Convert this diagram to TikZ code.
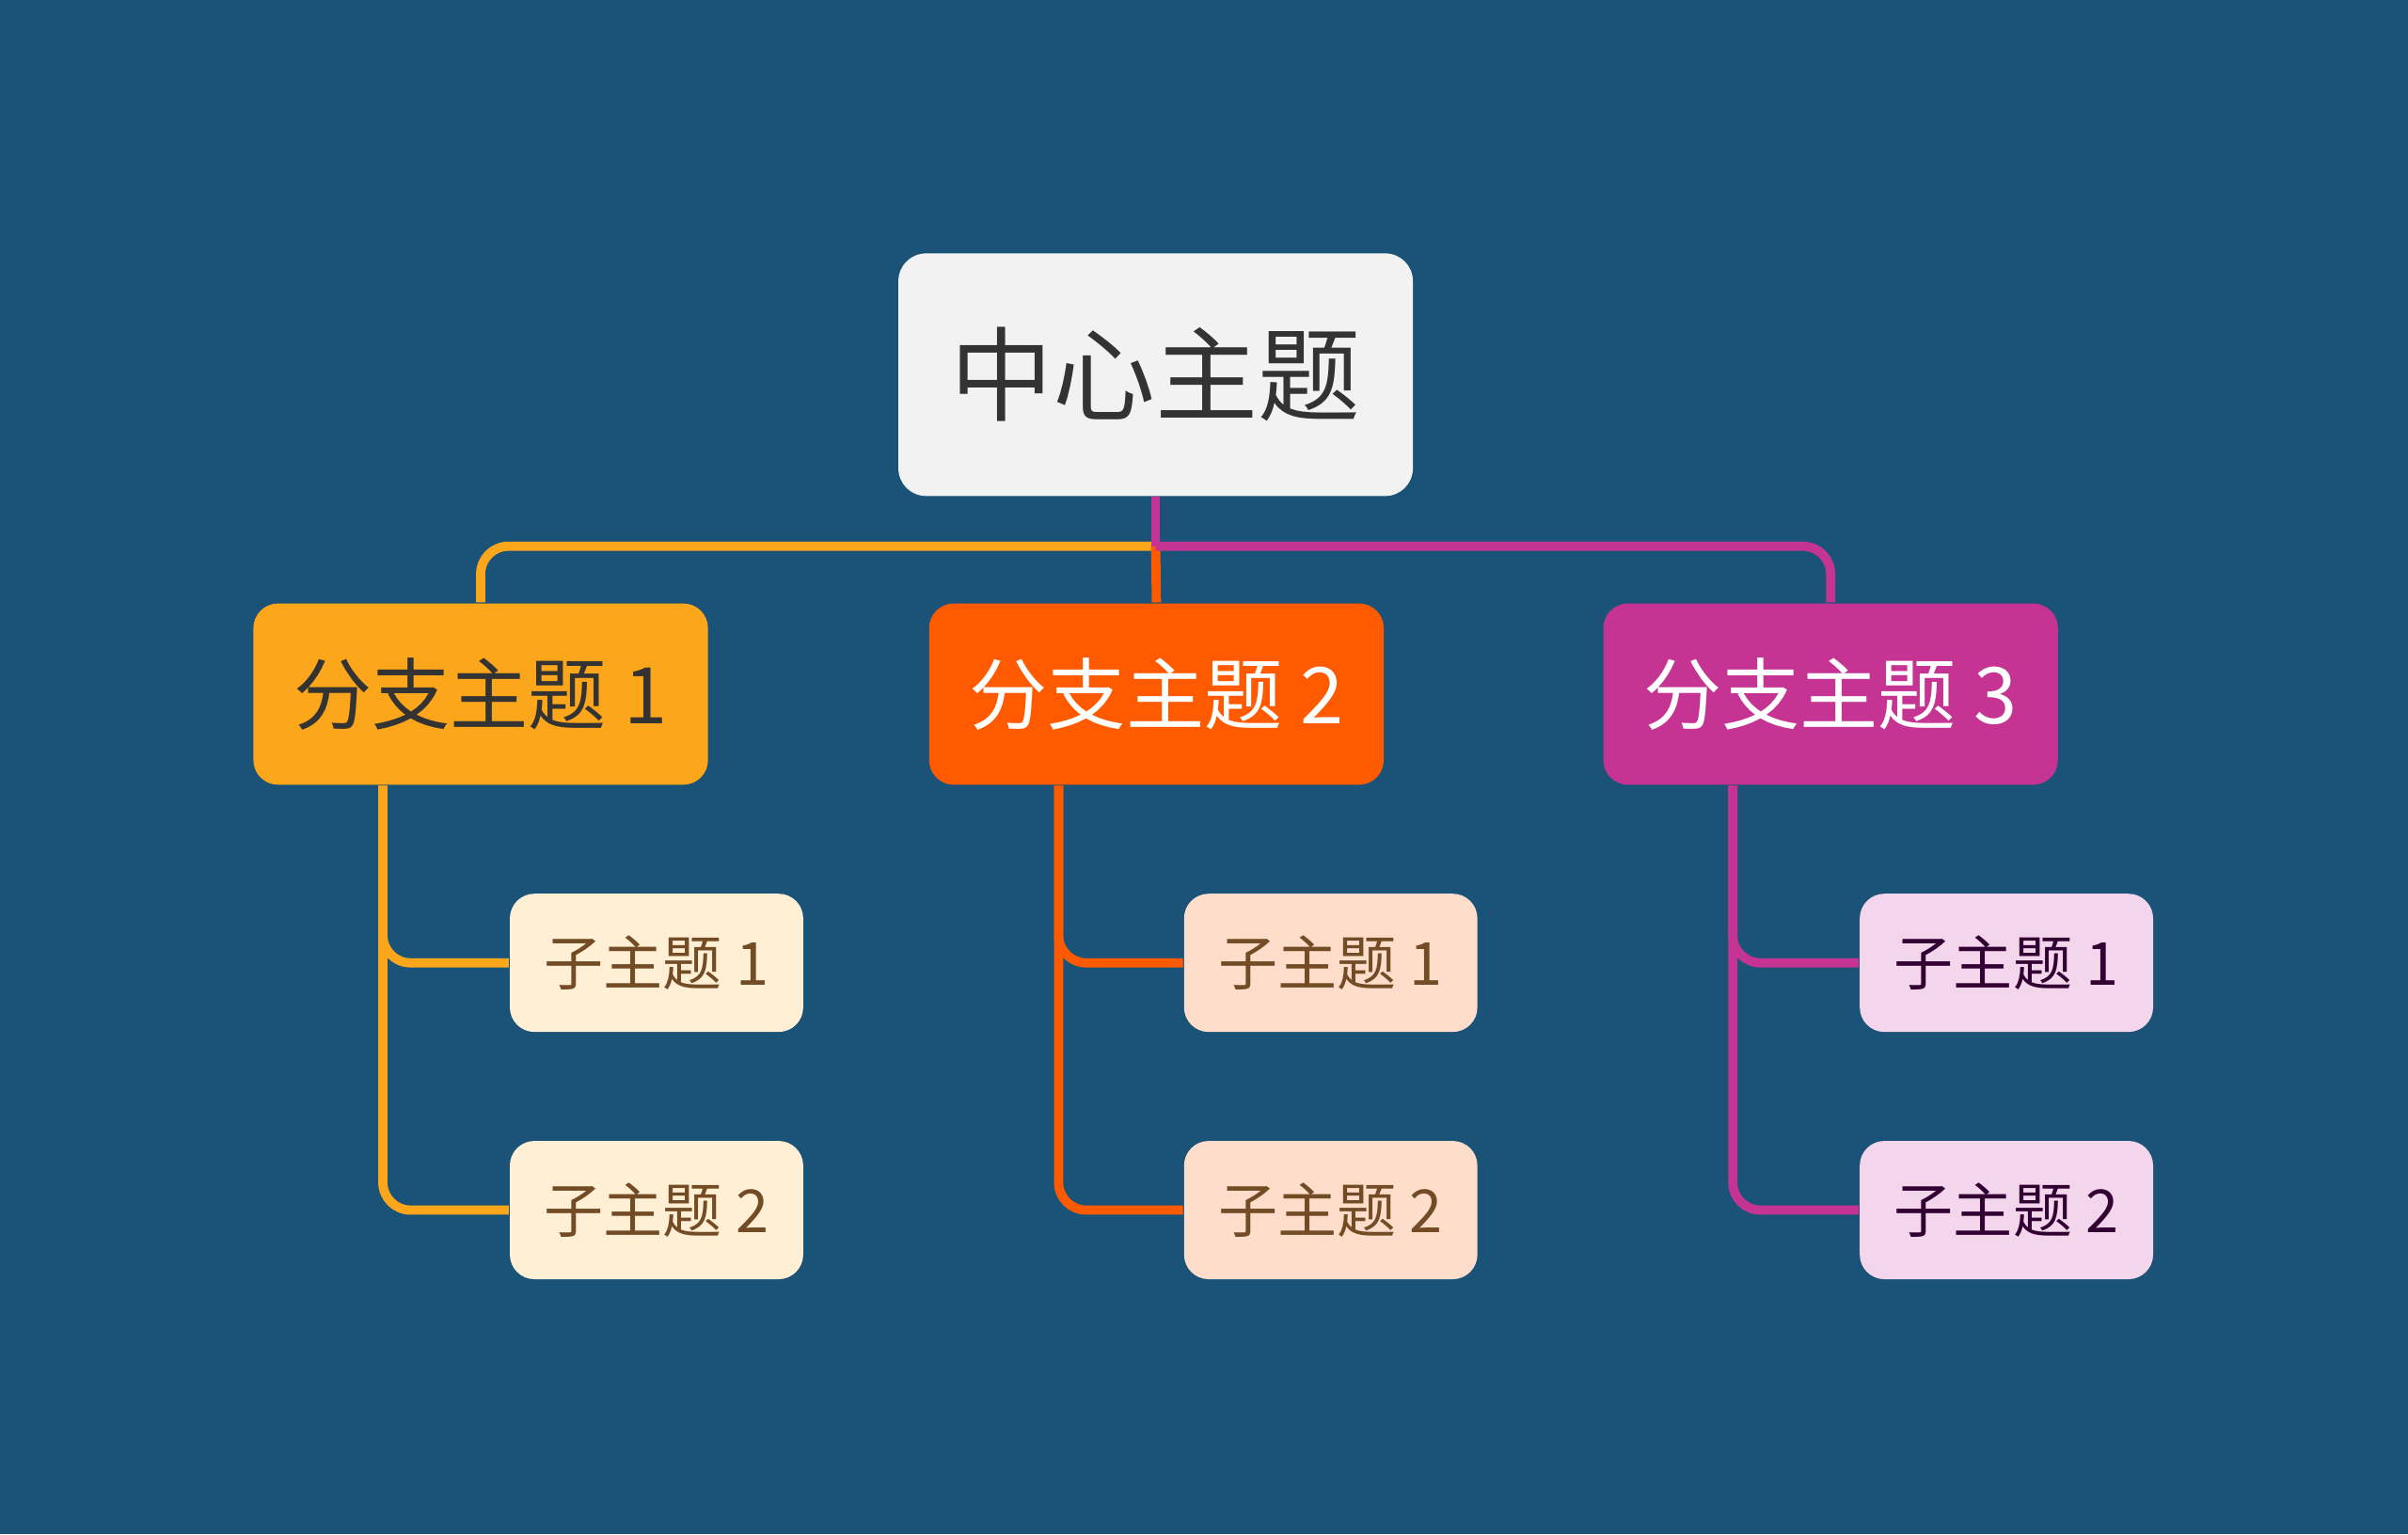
\documentclass[tikz,border=0pt]{standalone}
\usepackage{fontspec}
\setmainfont{Noto Sans CJK SC}
\usetikzlibrary{calc}
\definecolor{bgblue}{HTML}{1A5377}
\definecolor{corange}{HTML}{FCA61B}
\definecolor{cred}{HTML}{FF5A00}
\definecolor{cpink}{HTML}{C53393}
\definecolor{lorange}{HTML}{FFF0D5}
\definecolor{lred}{HTML}{FFDDCB}
\definecolor{lpink}{HTML}{F3D6EC}
\begin{document}
\begin{tikzpicture}
\tikzstyle{centre} = [rectangle, rounded corners=0.18cm, fill=black!5, text=black!80, minimum width=3.35cm, minimum height=1.58cm, font=\fontsize{19}{23}\selectfont]
\tikzstyle{branch} = [rectangle, rounded corners=0.16cm, minimum width=2.96cm, minimum height=1.18cm, font=\fontsize{14.5}{18}\selectfont]
\tikzstyle{subtopic} = [rectangle, rounded corners=0.16cm, minimum width=1.91cm, minimum height=0.9cm, font=\fontsize{11}{14}\selectfont]
\tikzstyle{link} = [line width=0.06cm, rounded corners=0.18cm]

\fill[bgblue] (0,0) rectangle (15.68,-9.99);

\node(centre) [centre] at (7.525,-2.44) {中心主题};
\node(branchA) [branch, fill=corange, text=black!80] at (3.13,-4.52) {分支主题 1};
\node(branchB) [branch, fill=cred, text=white] at (7.53,-4.52) {分支主题 2};
\node(branchC) [branch, fill=cpink, text=white] at (11.92,-4.52) {分支主题 3};

\node(subA1) [subtopic, fill=lorange, text=brown!60!black] at (4.275,-6.27) {子主题 1};
\node(subA2) [subtopic, fill=lorange, text=brown!60!black] at (4.275,-7.88) {子主题 2};
\node(subB1) [subtopic, fill=lred, text=brown!60!black] at (8.665,-6.27) {子主题 1};
\node(subB2) [subtopic, fill=lred, text=brown!60!black] at (8.665,-7.88) {子主题 2};
\node(subC1) [subtopic, fill=lpink, text=violet!40!black] at (13.065,-6.27) {子主题 1};
\node(subC2) [subtopic, fill=lpink, text=violet!40!black] at (13.065,-7.88) {子主题 2};

\coordinate (joint) at ($(centre.south)+(0,-0.32)$);

% centre to branches
\draw[link, corange] (branchA.north) |- (joint);
\draw[link, cred] (joint) -- (branchB.north);
\draw[link, cpink] (branchC.north) |- (joint);
\draw[link, cpink] (centre.south) -- (joint);

% branches to subtopics
\draw[link, corange] ($(branchA.south west)+(0.85,0)$) |- (subA1.west);
\draw[link, corange] ($(branchA.south west)+(0.85,0)$) |- (subA2.west);
\draw[link, cred] ($(branchB.south west)+(0.85,0)$) |- (subB1.west);
\draw[link, cred] ($(branchB.south west)+(0.85,0)$) |- (subB2.west);
\draw[link, cpink] ($(branchC.south west)+(0.85,0)$) |- (subC1.west);
\draw[link, cpink] ($(branchC.south west)+(0.85,0)$) |- (subC2.west);
\end{tikzpicture}
\end{document}
